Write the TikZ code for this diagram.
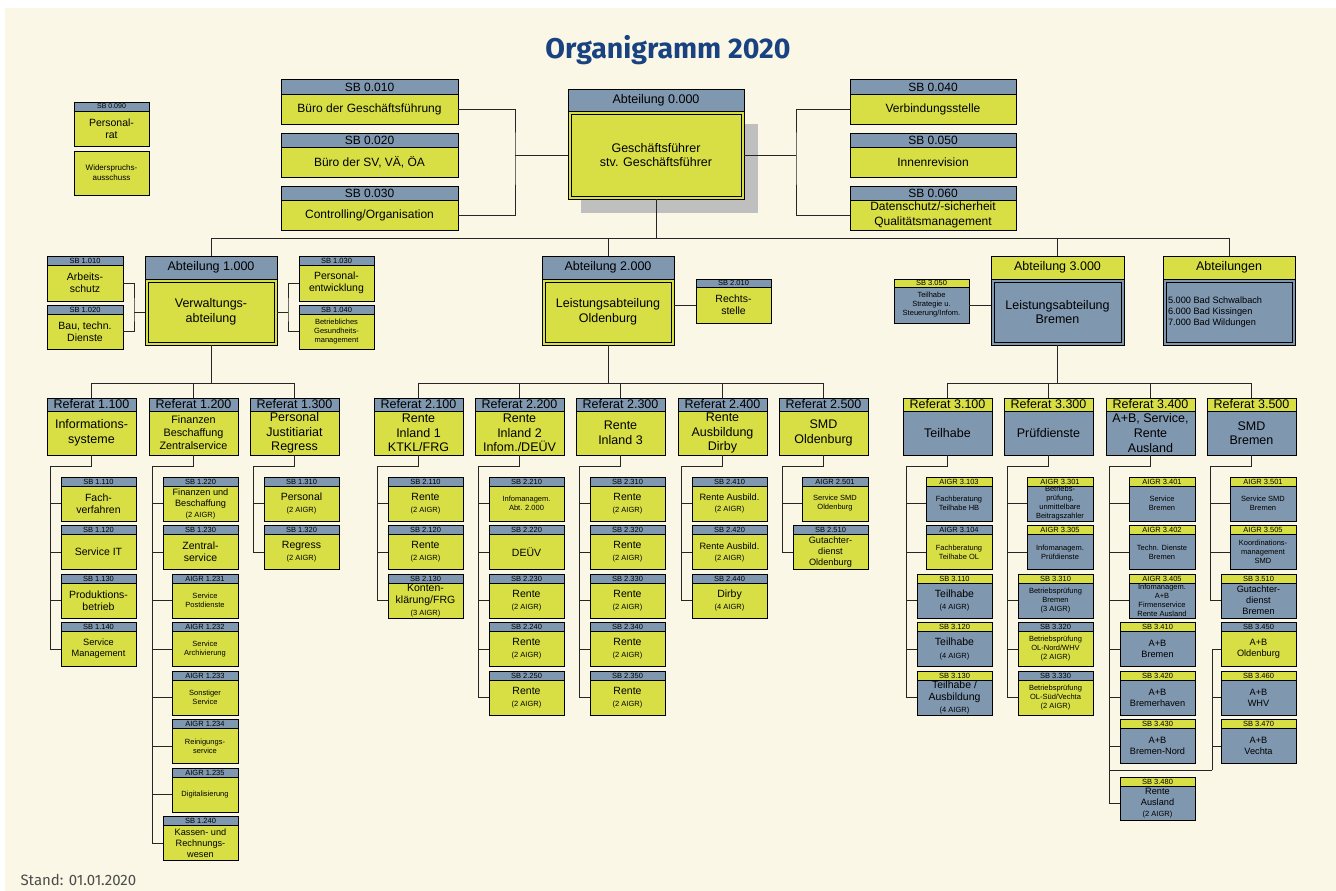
\documentclass[tikz,border=0pt]{standalone}
\usepackage{fontspec}
\setmainfont{Liberation Sans}
\newfontfamily\titelschrift{Fira Sans}
\usetikzlibrary{calc}

\definecolor{hgrund}{RGB}{250,247,230}
\definecolor{gelbgruen}{RGB}{216,223,69}
\definecolor{blaugrau}{RGB}{127,151,175}
\definecolor{titelblau}{RGB}{24,66,128}
% k = Kopfzeile, r = Rumpf; g = gelber Kasten, b = blauer Kasten
\colorlet{kg}{blaugrau}
\colorlet{rg}{gelbgruen}
\colorlet{kb}{gelbgruen}
\colorlet{rb}{blaugrau}

\newcommand{\sgross}{\fontsize{12.5}{14.6}\selectfont}
\newcommand{\snormal}{\fontsize{12}{14.5}\selectfont}
\newcommand{\smittel}{\fontsize{10.5}{12.3}\selectfont}
\newcommand{\sklein}{\fontsize{9.2}{11}\selectfont}
\newcommand{\swinzig}{\fontsize{7.5}{9}\selectfont}

\tikzset{
  kopf/.style={draw, line width=1pt, inner sep=0pt, outer sep=0pt, anchor=north west, font=\swinzig},
  rumpf/.style={draw, line width=1pt, inner sep=0pt, outer sep=0pt, anchor=north west, align=center},
  linie/.style={line width=1pt, black!85}
}

% #1 Name, #2 Farbe, #3 Ecke oben links, #4 Breite, #5/#6 Hoehen, #7 Schrift, #8 Kopf, #9 Text
\newcommand{\kasten}[9]{%
  \node[kopf, fill=k#2, minimum width=#4, minimum height=#5] (k#1) at (#3) {#8};
  \node[rumpf, fill=r#2, minimum width=#4, minimum height=#6, font=#7] (#1) at (k#1.south west) {#9};
}

% Referat: Name, linke Kante, Farbe, Kopf, Text, Schrift
\newcommand{\referat}[6]{%
  \kasten{#1}{#3}{#2,398}{89}{13}{44}{#6}{\sgross #4}{#5}
  \coordinate (#1t) at (#2+3,466);
  \draw[linie] (#1.south) |- (#1t);
}

% Untergeordnete Kaesten: Name, rechte Kante, Anschluss, erste Zeile, Liste
\newcommand{\kinder}[5]{%
  \foreach \kb/\kf/\kh/\kt/\ks [count=\i from #4] in {#5}{
    \kasten{#1c\i}{\kf}{#2-\kb,477+48.5*\i}{\kb}{9}{35}{\ks}{\kh}{\kt}
    \draw[linie] (#3) |- (#1c\i.west);
  }
}

\begin{document}
\begin{tikzpicture}[x=1pt, y=-1pt]
\useasboundingbox (0,0) rectangle (1336,891);
\fill[hgrund] (5,8) rectangle (1336,891);

% Titel
\node[font=\titelschrift\bfseries\fontsize{28.5}{32}\selectfont, text=titelblau] (titel) at (668,50) {Organigramm 2020};

% Geschaeftsfuehrung
\fill[black!25] (581,124) rectangle (758,213);
\kasten{a0}{g}{568,89}{176}{22}{88}{\sgross}{\sgross Abteilung 0.000}{Geschäftsführer\\stv. Geschäftsführer}

\kasten{s090}{g}{74,102}{75}{9}{35}{\smittel}{\fontsize{7}{8}\selectfont SB 0.090}{Personal-\\rat}
\node[rumpf, fill=rg, minimum width=75, minimum height=44, font=\fontsize{8}{10}\selectfont] (wsa) at (74,151) {Widerspruchs-\\ausschuss};

\kasten{s010}{g}{281,80}{177}{14}{30}{\snormal}{\snormal SB 0.010}{Büro der Geschäftsführung}
\kasten{s020}{g}{281,133}{177}{14}{30}{\snormal}{\snormal SB 0.020}{Büro der SV, VÄ, ÖA}
\kasten{s030}{g}{281,186}{177}{14}{30}{\snormal}{\snormal SB 0.030}{Controlling/Organisation}
\kasten{s040}{g}{850,80}{166}{14}{30}{\snormal}{\snormal SB 0.040}{Verbindungsstelle}
\kasten{s050}{g}{850,133}{166}{14}{30}{\snormal}{\snormal SB 0.050}{Innenrevision}
\kasten{s060}{g}{850,186}{166}{14}{30}{\snormal}{\snormal SB 0.060}{Datenschutz/-sicherheit\\Qualitätsmanagement}

\coordinate (lv) at (515,155);
\coordinate (rv) at (796,155);
\draw[linie] (s010.east) -| (lv) |- (s030.east);
\draw[linie] (lv) -- (a0.west);
\draw[linie] (s040.west) -| (rv) |- (s060.west);
\draw[linie] (rv) -- (a0.east);

% Abteilungen
\kasten{a1}{g}{145,256}{132}{23}{66}{\sgross}{\sgross Abteilung 1.000}{Verwaltungs-\\abteilung}
\kasten{a2}{g}{542,256}{132}{23}{66}{\sgross}{\sgross Abteilung 2.000}{Leistungsabteilung\\Oldenburg}
\kasten{a3}{b}{991,256}{133}{23}{66}{\sgross}{\sgross Abteilung 3.000}{Leistungsabteilung\\Bremen}
\kasten{a5}{b}{1163,256}{132}{23}{66}{\sklein}{\sgross Abteilungen}{\begin{minipage}{122pt}5.000 Bad Schwalbach\\6.000 Bad Kissingen\\7.000 Bad Wildungen\end{minipage}}
\foreach \n in {a0,a1,a2,a3,a5}
  \draw[line width=0.8pt] ([shift={(3,3)}]\n.north west) rectangle ([shift={(-3,-3)}]\n.south east);

\coordinate (b0) at (656,238);
\draw[linie] (a0.south) -- (b0);
\foreach \n in {a1,a2,a3,a5}
  \draw[linie] (b0) -| (k\n.north);

% Stabsstellen
\kasten{s1010}{g}{47,256}{76}{9}{36}{\smittel}{SB 1.010}{Arbeits-\\schutz}
\kasten{s1020}{g}{47,305}{76}{9}{35}{\smittel}{SB 1.020}{Bau, techn.\\Dienste}
\kasten{s1030}{g}{299,256}{75}{9}{36}{\smittel}{SB 1.030}{Personal-\\entwicklung}
\kasten{s1040}{g}{299,305}{75}{9}{35}{\swinzig}{SB 1.040}{Betriebliches\\Gesundheits-\\management}
\kasten{s2010}{g}{696,279}{75}{8}{36}{\smittel}{SB 2.010}{Rechts-\\stelle}
\kasten{s3050}{b}{894,279}{75}{8}{36}{\swinzig}{SB 3.050}{Teilhabe\\Strategie u.\\Steuerung/Infom.}

\coordinate (l1) at (134,312);
\coordinate (r1) at (288,312);
\draw[linie] (s1010.east) -| (l1) |- (s1020.east);
\draw[linie] (l1) -- (a1.west);
\draw[linie] (s1030.west) -| (r1) |- (s1040.west);
\draw[linie] (r1) -- (a1.east);
\draw[linie] (s2010.west) -- (s2010.west -| a2.east);
\draw[linie] (s3050.east) -- (s3050.east -| a3.west);

% Referate
\referat{r11}{47}{g}{Referat 1.100}{Informations-\\systeme}{\sgross}
\referat{r12}{149}{g}{Referat 1.200}{Finanzen\\Beschaffung\\Zentralservice}{\fontsize{10.8}{13}\selectfont}
\referat{r13}{250}{g}{Referat 1.300}{Personal\\Justitiariat\\Regress}{\sgross}
\referat{r21}{374}{g}{Referat 2.100}{Rente\\Inland 1\\KTKL/FRG}{\sgross}
\referat{r22}{475}{g}{Referat 2.200}{Rente\\Inland 2\\Infom./DEÜV}{\sgross}
\referat{r23}{576}{g}{Referat 2.300}{Rente\\Inland 3}{\sgross}
\referat{r24}{678}{g}{Referat 2.400}{Rente\\Ausbildung\\Dirby}{\sgross}
\referat{r25}{779}{g}{Referat 2.500}{SMD\\Oldenburg}{\sgross}
\referat{r31}{903}{b}{Referat 3.100}{Teilhabe}{\sgross}
\referat{r33}{1004}{b}{Referat 3.300}{Prüfdienste}{\sgross}
\referat{r34}{1106}{b}{Referat 3.400}{A+B, Service,\\Rente\\Ausland}{\sgross}
\referat{r35}{1207}{b}{Referat 3.500}{SMD\\Bremen}{\sgross}

\coordinate (b1) at (211,383);
\coordinate (b2) at (608,383);
\coordinate (b3) at (1057.5,383);
\draw[linie] (a1.south) -- (b1);
\draw[linie] (a2.south) -- (b2);
\draw[linie] (a3.south) -- (b3);
\foreach \r in {r11,r12,r13} \draw[linie] (b1) -| (k\r.north);
\foreach \r in {r21,r22,r23,r24,r25} \draw[linie] (b2) -| (k\r.north);
\foreach \r in {r31,r33,r34,r35} \draw[linie] (b3) -| (k\r.north);

% Sachgebiete Abteilung 1
\kinder{r11}{136}{r11t}{0}{75/g/SB 1.110/{Fach-\\verfahren}/\smittel,
  75/g/SB 1.120/{Service IT}/\smittel,
  75/g/SB 1.130/{Produktions-\\betrieb}/\smittel,
  75/g/SB 1.140/{Service\\Management}/\sklein}
\kinder{r12}{238}{r12t}{0}{75/g/SB 1.220/{Finanzen und\\Beschaffung\\{\swinzig (2 AIGR)}}/\sklein,
  75/g/SB 1.230/{Zentral-\\service}/\smittel,
  66/g/AIGR 1.231/{Service\\Postdienste}/\swinzig,
  66/g/AIGR 1.232/{Service\\Archivierung}/\swinzig,
  66/g/AIGR 1.233/{Sonstiger\\Service}/\swinzig,
  66/g/AIGR 1.234/{Reinigungs-\\service}/\swinzig,
  66/g/AIGR 1.235/{Digitalisierung}/\swinzig,
  75/g/SB 1.240/{Kassen- und\\Rechnungs-\\wesen}/\sklein}
\kinder{r13}{339}{r13t}{0}{75/g/SB 1.310/{Personal\\{\swinzig (2 AIGR)}}/\smittel,
  75/g/SB 1.320/{Regress\\{\swinzig (2 AIGR)}}/\smittel}

% Sachgebiete Abteilung 2
\kinder{r21}{463}{r21t}{0}{75/g/SB 2.110/{Rente\\{\swinzig (2 AIGR)}}/\smittel,
  75/g/SB 2.120/{Rente\\{\swinzig (2 AIGR)}}/\smittel,
  75/g/SB 2.130/{Konten-\\klärung/FRG\\{\swinzig (3 AIGR)}}/\smittel}
\kinder{r22}{564}{r22t}{0}{75/g/SB 2.210/{Infomanagem.\\Abt. 2.000}/\swinzig,
  75/g/SB 2.220/{DEÜV}/\smittel,
  75/g/SB 2.230/{Rente\\{\swinzig (2 AIGR)}}/\smittel,
  75/g/SB 2.240/{Rente\\{\swinzig (2 AIGR)}}/\smittel,
  75/g/SB 2.250/{Rente\\{\swinzig (2 AIGR)}}/\smittel}
\kinder{r23}{665}{r23t}{0}{75/g/SB 2.310/{Rente\\{\swinzig (2 AIGR)}}/\smittel,
  75/g/SB 2.320/{Rente\\{\swinzig (2 AIGR)}}/\smittel,
  75/g/SB 2.330/{Rente\\{\swinzig (2 AIGR)}}/\smittel,
  75/g/SB 2.340/{Rente\\{\swinzig (2 AIGR)}}/\smittel,
  75/g/SB 2.350/{Rente\\{\swinzig (2 AIGR)}}/\smittel}
\kinder{r24}{767}{r24t}{0}{75/g/SB 2.410/{Rente Ausbild.\\{\swinzig (2 AIGR)}}/\sklein,
  75/g/SB 2.420/{Rente Ausbild.\\{\swinzig (2 AIGR)}}/\sklein,
  75/g/SB 2.440/{Dirby\\{\swinzig (4 AIGR)}}/\smittel}
\kinder{r25}{868}{r25t}{0}{66/g/AIGR 2.501/{Service SMD\\Oldenburg}/\swinzig,
  75/g/SB 2.510/{Gutachter-\\dienst\\Oldenburg}/\sklein}

% Sachgebiete Abteilung 3
\kinder{r31}{992}{r31t}{0}{66/b/AIGR 3.103/{Fachberatung\\Teilhabe HB}/\swinzig,
  66/g/AIGR 3.104/{Fachberatung\\Teilhabe OL}/\swinzig,
  75/b/SB 3.110/{Teilhabe\\{\swinzig (4 AIGR)}}/\smittel,
  75/b/SB 3.120/{Teilhabe\\{\swinzig (4 AIGR)}}/\smittel,
  75/b/SB 3.130/{Teilhabe /\\Ausbildung\\{\swinzig (4 AIGR)}}/\smittel}
\kinder{r33}{1093}{r33t}{0}{66/b/AIGR 3.301/{Betriebs-\\prüfung,\\unmittelbare\\Beitragszahler}/\swinzig,
  66/b/AIGR 3.305/{Infomanagem.\\Prüfdienste}/\swinzig,
  75/b/SB 3.310/{Betriebsprüfung\\Bremen\\(3 AIGR)}/\swinzig,
  75/g/SB 3.320/{Betriebsprüfung\\OL-Nord/WHV\\(2 AIGR)}/\swinzig,
  75/g/SB 3.330/{Betriebsprüfung\\OL-Süd/Vechta\\(2 AIGR)}/\swinzig}
\kinder{r34}{1195}{r34t}{0}{66/b/AIGR 3.401/{Service\\Bremen}/\swinzig,
  66/b/AIGR 3.402/{Techn. Dienste\\Bremen}/\swinzig,
  66/b/AIGR 3.405/{Infomanagem.\\A+B\\Firmenservice\\Rente Ausland}/\swinzig,
  75/b/SB 3.410/{A+B\\Bremen}/\sklein,
  75/b/SB 3.420/{A+B\\Bremerhaven}/\sklein,
  75/b/SB 3.430/{A+B\\Bremen-Nord}/\sklein}
\kinder{r35}{1296}{r35t}{0}{66/b/AIGR 3.501/{Service SMD\\Bremen}/\swinzig,
  66/b/AIGR 3.505/{Koordinations-\\management\\SMD}/\swinzig,
  75/b/SB 3.510/{Gutachter-\\dienst\\Bremen}/\sklein}

\kasten{s3480}{b}{1120,777}{75}{9}{34}{\sklein}{SB 3.480}{Rente\\Ausland\\{\swinzig (2 AIGR)}}
\draw[linie] (r34t) |- (s3480.west);

\coordinate (j35) at (1212,770);
\draw[linie] (r34t) |- (j35);
\kinder{r36}{1296}{j35}{3}{75/g/SB 3.450/{A+B\\Oldenburg}/\sklein,
  75/b/SB 3.460/{A+B\\WHV}/\sklein,
  75/b/SB 3.470/{A+B\\Vechta}/\sklein}

% Stand
\node[anchor=west, font=\titelschrift\fontsize{15}{17}\selectfont, text=black!70] (stand) at (17,880) {Stand: 01.01.2020};
\end{tikzpicture}
\end{document}
